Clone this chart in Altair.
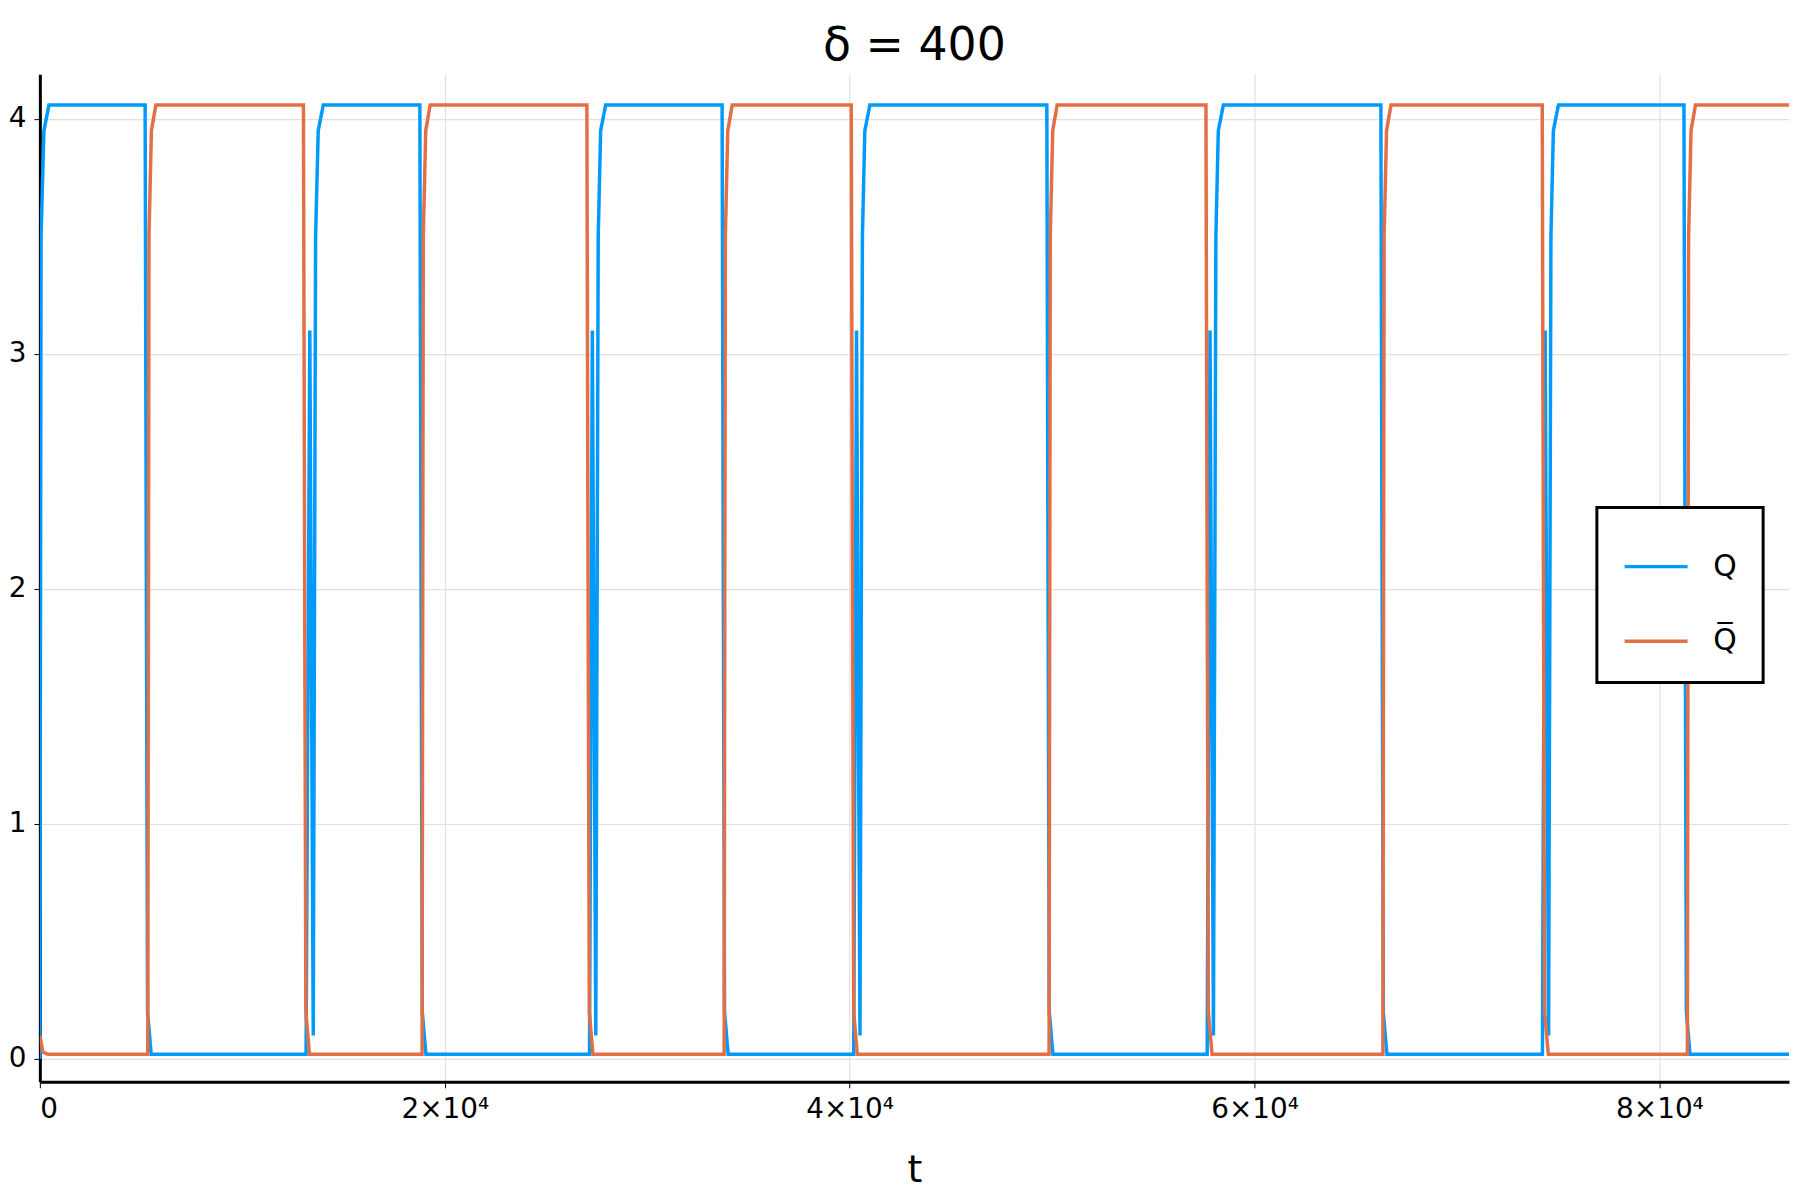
import pandas as pd
import altair as alt

# Q (blue)
q_t = [0, 60, 200, 450, 5200, 5260, 5320, 5500,
       13150, 13334, 13504, 13620, 13750, 14000, 18770, 18830, 18890, 19070,
       27150, 27290, 27460, 27580, 27700, 27950, 33700, 33760, 33820, 34000,
       40200, 40340, 40510, 40630, 40750, 41000, 49740, 49800, 49860, 50040,
       57660, 57800, 57970, 58090, 58210, 58460, 66240, 66300, 66360, 66540,
       74220, 74355, 74524, 74640, 74760, 75010, 81210, 81270, 81330, 81510, 86500]
q_v = [0.0, 3.5, 3.95, 4.06, 4.06, 2.0, 0.2, 0.02,
       0.02, 3.1, 0.1, 3.5, 3.95, 4.06, 4.06, 2.0, 0.2, 0.02,
       0.02, 3.1, 0.1, 3.5, 3.95, 4.06, 4.06, 2.0, 0.2, 0.02,
       0.02, 3.1, 0.1, 3.5, 3.95, 4.06, 4.06, 2.0, 0.2, 0.02,
       0.02, 3.1, 0.1, 3.5, 3.95, 4.06, 4.06, 2.0, 0.2, 0.02,
       0.02, 3.1, 0.1, 3.5, 3.95, 4.06, 4.06, 2.0, 0.2, 0.02, 0.02]

# Q-bar (orange)
qb_t = [0, 150, 400, 5330, 5390, 5510, 5730, 13020, 13080, 13140, 13320,
        18880, 18940, 19060, 19280, 27020, 27080, 27140, 27320,
        33800, 33860, 33980, 34200, 40080, 40140, 40200, 40380,
        49850, 49910, 50030, 50250, 57600, 57660, 57720, 57900,
        66340, 66400, 66520, 66740, 74210, 74270, 74330, 74510,
        81380, 81440, 81560, 81780, 86500]
qb_v = [0.1, 0.03, 0.02, 0.02, 3.5, 3.95, 4.06, 4.06, 2.0, 0.2, 0.02,
        0.02, 3.5, 3.95, 4.06, 4.06, 2.0, 0.2, 0.02,
        0.02, 3.5, 3.95, 4.06, 4.06, 2.0, 0.2, 0.02,
        0.02, 3.5, 3.95, 4.06, 4.06, 2.0, 0.2, 0.02,
        0.02, 3.5, 3.95, 4.06, 4.06, 2.0, 0.2, 0.02,
        0.02, 3.5, 3.95, 4.06, 4.06]

series = ['Q', 'Q\u0305']
df = pd.concat([
    pd.DataFrame({'t': q_t, 'v': q_v, 's': series[0], 'o': range(len(q_t))}),
    pd.DataFrame({'t': qb_t, 'v': qb_v, 's': series[1], 'o': range(len(qb_t))}),
])

x_ticks = [0, 20000, 40000, 60000, 80000]

chart = alt.Chart(df).mark_line(strokeWidth=3.5, clip=True).encode(
    x=alt.X('t:Q', title='t',
            scale=alt.Scale(domain=[0, 86400], nice=False, zero=False),
            axis=alt.Axis(values=x_ticks, titlePadding=28,
                          labelExpr="datum.value == 0 ? '0' : (datum.value/10000) + '×10⁴'")),
    y=alt.Y('v:Q', title=None,
            scale=alt.Scale(domain=[-0.097, 4.19], nice=False, zero=False),
            axis=alt.Axis(values=[0, 1, 2, 3, 4], format='d')),
    color=alt.Color('s:N', title=None,
                    scale=alt.Scale(domain=series, range=['#009AFA', '#E26F46']),
                    legend=alt.Legend(orient='none', legendX=1564, legendY=435,
                                      symbolType='stroke', symbolSize=4000, symbolStrokeWidth=3.5,
                                      labelFontSize=30, labelFont='DejaVu Sans', labelOffset=24,
                                      padding=26, rowPadding=26, symbolOffset=0,
                                      strokeColor='black', fillColor='white')),
    order='o:Q',
).properties(
    width=1757, height=1012,
    title=alt.Title('δ =  400', fontSize=46, font='DejaVu Sans', fontWeight='normal', offset=4),
    autosize=alt.AutoSizeParams(type='none'),
    padding={'left': 32, 'top': 64, 'right': 3, 'bottom': 100},
).configure_view(stroke=None).configure_axis(
    domainColor='black', domainWidth=3, gridColor='#e0e0e0', gridWidth=1.2,
    tickColor='black', tickSize=6, labelFontSize=28, labelFont='DejaVu Sans',
    labelColor='black', titleFontSize=38, titleFont='DejaVu Sans',
    titleFontWeight='normal', titleColor='black', labelPadding=8
).configure_legend(strokeWidth=3)

chart.save("out.html", embed_options={"renderer": "svg", "actions": False})
